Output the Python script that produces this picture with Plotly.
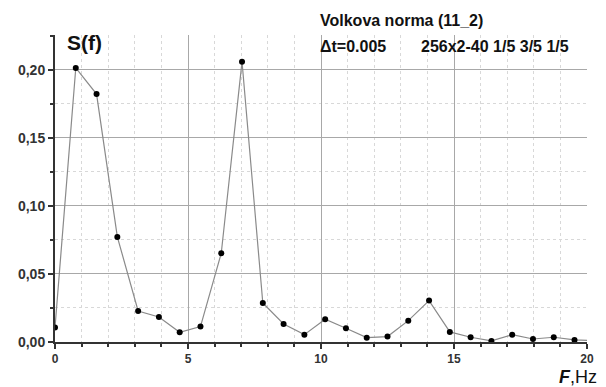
import plotly.graph_objects as go

# Spectrum S(f): frequency bins (200/256 Hz step) and amplitudes
freq = [0.0, 0.78125, 1.5625, 2.34375, 3.125, 3.90625, 4.6875, 5.46875, 6.25,
        7.03125, 7.8125, 8.59375, 9.375, 10.15625, 10.9375, 11.71875, 12.5,
        13.28125, 14.0625, 14.84375, 15.625, 16.40625, 17.1875, 17.96875,
        18.75, 19.53125, 20.3125]
amp = [0.0106, 0.2013, 0.1821, 0.0772, 0.0228, 0.0184, 0.0071, 0.0113, 0.0652,
       0.2059, 0.0287, 0.0132, 0.0054, 0.0167, 0.0101, 0.0032, 0.0040,
       0.0157, 0.0304, 0.0074, 0.0035, 0.0008, 0.0054, 0.0022,
       0.0035, 0.0015, 0.0010]

x_ticks = [0, 5, 10, 15, 20]
y_ticks = [0.0, 0.05, 0.10, 0.15, 0.20]

FONT = "Liberation Sans, Arial, sans-serif"
W, H = 606, 387
ML, MR, MT, MB = 55, 13, 35, 45
PW, PH = W - ML - MR, H - MT - MB


def px(xp):
    return (xp - ML) / PW


def py(yp):
    return (H - MB - yp) / PH


fig = go.Figure()
fig.add_trace(go.Scatter(
    x=freq, y=amp, mode="lines+markers",
    line=dict(color="#8a8a8a", width=1.2),
    marker=dict(color="black", size=6),
    showlegend=False,
))

axis_common = dict(
    showline=True, linecolor="#333", linewidth=2,
    ticks="outside", ticklen=5, tickcolor="#333", tickwidth=1.5,
    showgrid=True, gridcolor="#a8a8a8", gridwidth=1,
    zeroline=False,
)

fig.update_layout(
    width=W, height=H,
    margin=dict(l=ML, r=MR, t=MT, b=MB),
    paper_bgcolor="white", plot_bgcolor="white",
    font=dict(family=FONT, size=13, color="#222"),
    xaxis=dict(
        range=[0, 20], tickvals=x_ticks,
        ticktext=[f"<b>{v}</b>" for v in x_ticks],
        tickfont=dict(family=FONT, size=12, color="#333"),
        ticklabelstandoff=0,
        minor=dict(dtick=1, ticks="outside", ticklen=3, tickcolor="#333",
                   showgrid=True, gridcolor="#d8d8d8", griddash="dot"),
        **axis_common,
    ),
    yaxis=dict(
        range=[0, 0.2255], tickvals=y_ticks,
        ticktext=[f"<b>{v:.2f}</b>".replace(".", ",") for v in y_ticks],
        tickfont=dict(family=FONT, size=14, color="#333"),
        minor=dict(dtick=0.025, ticks="outside", ticklen=3, tickcolor="#333",
                   showgrid=True, gridcolor="#d8d8d8", griddash="dot"),
        **axis_common,
    ),
)

texts = [
    ("<b>S(f)</b>", 66, 42, "left", 21),
    ("<b>Volkova norma (11_2)</b>", 322, 21, "left", 16),
    ("<b>Δt=0.005</b>", 322, 46, "left", 16),
    ("<b>256x2-40 1/5 3/5 1/5</b>", 424, 46, "left", 16),
    ("<b><i>F</i></b>,Hz", 604, 376.5, "right", 18),
]
for txt, xp, yp, anchor, size in texts:
    fig.add_annotation(
        xref="paper", yref="paper", x=px(xp), y=py(yp), text=txt,
        showarrow=False, xanchor=anchor, yanchor="middle", borderpad=0,
        font=dict(family=FONT, size=size, color="#111"),
    )

fig.write_html("out.html")
